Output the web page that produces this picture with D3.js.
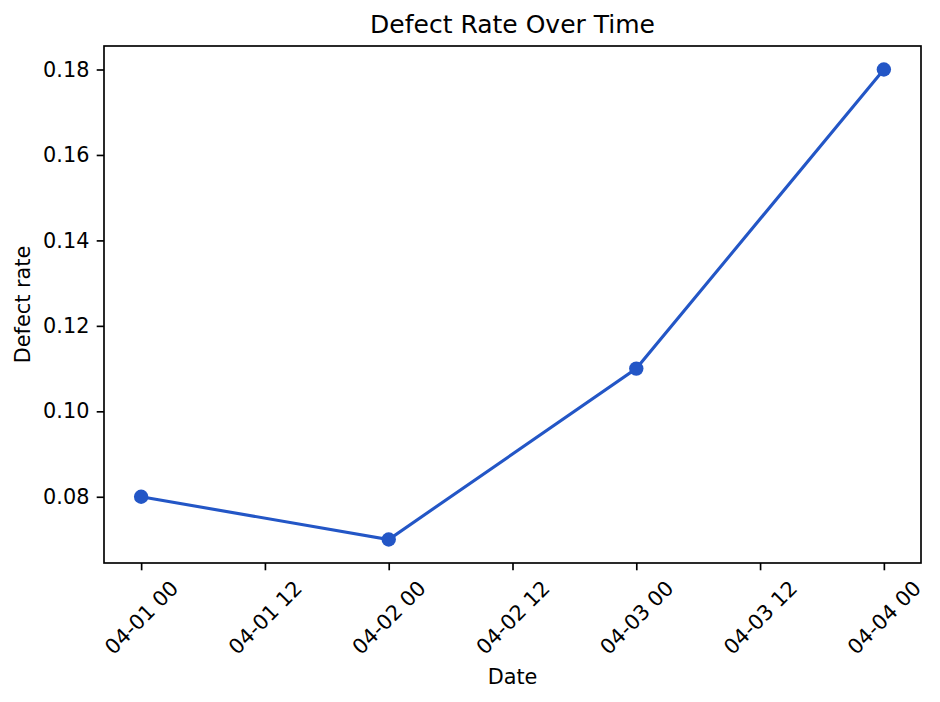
<!DOCTYPE html>
<html>
<head>
<meta charset="utf-8">
<script src="https://cdn.jsdelivr.net/npm/d3@7"></script>
<style>
  body { margin: 0; background: #fff; }
  text { font-family: "DejaVu Sans", sans-serif; fill: #000; }
</style>
</head>
<body>
<div id="chart"></div>
<script>
// data
var dates = ["2024-04-01", "2024-04-02", "2024-04-03", "2024-04-04"];
var defectRates = [0.08, 0.07, 0.11, 0.18];
var yTicks = [0.08, 0.10, 0.12, 0.14, 0.16, 0.18];

var W = 940, H = 702;
var margin = {top: 46, right: 19, bottom: 139, left: 104};
var width = W - margin.left - margin.right,
    height = H - margin.top - margin.bottom;

var parse = d3.utcParse("%Y-%m-%d");
var data = dates.map(function(d, i) { return {date: parse(d), value: defectRates[i]}; });

var svg = d3.select("#chart").append("svg")
  .attr("width", W).attr("height", H);

var g = svg.append("g")
  .attr("transform", "translate(" + margin.left + "," + margin.top + ")");

// x scale with 5% padding like matplotlib
var xExt = d3.extent(data, d => d.date);
var xPad = (xExt[1] - xExt[0]) * 0.05;
var x = d3.scaleUtc()
  .domain([new Date(+xExt[0] - xPad), new Date(+xExt[1] + xPad)])
  .range([0, width]);

var yExt = d3.extent(defectRates);
var yPad = (yExt[1] - yExt[0]) * 0.05;
var y = d3.scaleLinear()
  .domain([yExt[0] - yPad, yExt[1] + yPad])
  .range([height, 0]);

var blue = "#2356c6";

// line
g.append("path")
  .datum(data)
  .attr("fill", "none")
  .attr("stroke", blue)
  .attr("stroke-width", 3.1)
  .attr("d", d3.line().x(d => x(d.date)).y(d => y(d.value)));

g.selectAll("circle")
  .data(data)
  .join("circle")
  .attr("cx", d => x(d.date))
  .attr("cy", d => y(d.value))
  .attr("r", 7.2)
  .attr("fill", blue);

// y axis
var yAxis = g.append("g")
  .call(d3.axisLeft(y).tickValues(yTicks).tickFormat(d3.format(".2f")).tickSize(7.3).tickPadding(7.3));
yAxis.select(".domain").remove();
yAxis.selectAll(".tick line").attr("stroke", "#000").attr("stroke-width", 1.67);
yAxis.selectAll(".tick text").style("font-size", "20.8px").attr("font-family", null);

// x axis, ticks every 12 hours
var xTicks = d3.utcHour.every(12).range(x.domain()[0], x.domain()[1]);
var fmt = d3.utcFormat("%m-%d %H");
var xAxis = g.append("g")
  .attr("transform", "translate(0," + height + ")")
  .call(d3.axisBottom(x).tickValues(xTicks).tickFormat(fmt).tickSize(7.3));
xAxis.select(".domain").remove();
xAxis.selectAll(".tick line").attr("stroke", "#000").attr("stroke-width", 1.67);
xAxis.selectAll(".tick text").each(function() {
  var t = d3.select(this);
  t.style("font-size", "20.8px").attr("font-family", null)
    .attr("text-anchor", "middle").attr("dy", null).attr("y", null)
    .attr("dominant-baseline", "central");
  var w = this.getComputedTextLength();
  var h = 20.8 * 0.95;
  var half = (w + h) * Math.SQRT1_2 / 2;
  t.attr("transform", "translate(0," + (7.3 + 7.3 + half) + ") rotate(-45)");
});

// frame
g.append("rect")
  .attr("x", 0).attr("y", 0).attr("width", width).attr("height", height)
  .attr("fill", "none").attr("stroke", "#000").attr("stroke-width", 1.67);

// labels
svg.append("text")
  .attr("x", margin.left + width / 2).attr("y", 33)
  .attr("text-anchor", "middle")
  .style("font-size", "25px")
  .text("Defect Rate Over Time");

svg.append("text")
  .attr("x", margin.left + width / 2).attr("y", 684)
  .attr("text-anchor", "middle")
  .style("font-size", "20.8px")
  .text("Date");

svg.append("text")
  .attr("transform", "translate(30," + (margin.top + height / 2) + ") rotate(-90)")
  .attr("text-anchor", "middle")
  .style("font-size", "20.8px")
  .text("Defect rate");
</script>
</body>
</html>
